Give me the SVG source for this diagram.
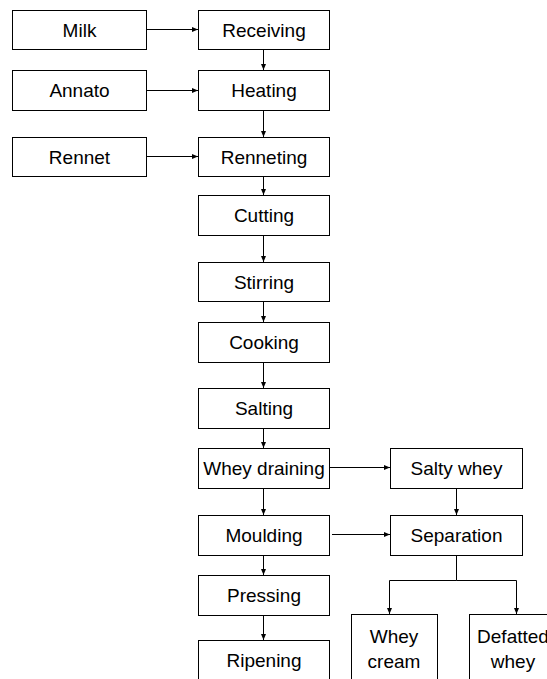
<svg xmlns="http://www.w3.org/2000/svg" width="547" height="679" viewBox="0 0 547 679">
<style>
.box{fill:#fff;stroke:#000;stroke-width:1}
.t{font-family:"Liberation Sans",Arial,sans-serif;font-size:19px;fill:#000;text-anchor:middle}
.c{fill:none;stroke:#000;stroke-width:1}
</style>
<defs>
<marker id="ah" markerWidth="6" markerHeight="6" refX="6" refY="3" orient="auto" markerUnits="userSpaceOnUse">
<path d="M0,0.5 L6,3 L0,5.5 Z" fill="#000"/>
</marker>
</defs>
<rect width="547" height="679" fill="#fff"/>
<g id="connectors">
<path class="c" d="M146.5,29.5 H198" marker-end="url(#ah)"/>
<path class="c" d="M146.5,90.5 H198" marker-end="url(#ah)"/>
<path class="c" d="M146.5,156.5 H198" marker-end="url(#ah)"/>
<path class="c" d="M263.5,49.5 V70" marker-end="url(#ah)"/>
<path class="c" d="M263.5,110.5 V137" marker-end="url(#ah)"/>
<path class="c" d="M263.5,176.5 V195" marker-end="url(#ah)"/>
<path class="c" d="M263.5,235.5 V262" marker-end="url(#ah)"/>
<path class="c" d="M263.5,301.5 V322" marker-end="url(#ah)"/>
<path class="c" d="M263.5,362.5 V388" marker-end="url(#ah)"/>
<path class="c" d="M263.5,428.5 V448" marker-end="url(#ah)"/>
<path class="c" d="M263.5,488.5 V515" marker-end="url(#ah)"/>
<path class="c" d="M263.5,555.5 V575" marker-end="url(#ah)"/>
<path class="c" d="M263.5,615.5 V640" marker-end="url(#ah)"/>
<path class="c" d="M329.5,467.5 H390" marker-end="url(#ah)"/>
<path class="c" d="M332,534.5 H390" marker-end="url(#ah)"/>
<path class="c" d="M456.5,488.5 V515" marker-end="url(#ah)"/>
<path class="c" d="M456.5,555.5 V580.5 H389.5 V614" marker-end="url(#ah)"/>
<path class="c" d="M456.5,580.5 H516.5 V614" marker-end="url(#ah)"/>
</g>
<g id="milk"><rect class="box" x="12.5" y="10.5" width="134" height="39"/><text class="t" x="79.5" y="36.5">Milk</text></g>
<g id="receiving"><rect class="box" x="198.5" y="10.5" width="131" height="39"/><text class="t" x="264" y="36.5">Receiving</text></g>
<g id="annato"><rect class="box" x="12.5" y="70.5" width="134" height="40"/><text class="t" x="79.5" y="97">Annato</text></g>
<g id="heating"><rect class="box" x="198.5" y="70.5" width="131" height="40"/><text class="t" x="264" y="97">Heating</text></g>
<g id="rennet"><rect class="box" x="12.5" y="137.5" width="134" height="39"/><text class="t" x="79.5" y="163.5">Rennet</text></g>
<g id="renneting"><rect class="box" x="198.5" y="137.5" width="131" height="39"/><text class="t" x="264" y="163.5">Renneting</text></g>
<g id="cutting"><rect class="box" x="198.5" y="195.5" width="131" height="40"/><text class="t" x="264" y="222">Cutting</text></g>
<g id="stirring"><rect class="box" x="198.5" y="262.5" width="131" height="39"/><text class="t" x="264" y="288.5">Stirring</text></g>
<g id="cooking"><rect class="box" x="198.5" y="322.5" width="131" height="40"/><text class="t" x="264" y="349">Cooking</text></g>
<g id="salting"><rect class="box" x="198.5" y="388.5" width="131" height="40"/><text class="t" x="264" y="415">Salting</text></g>
<g id="whey-draining"><rect class="box" x="198.5" y="448.5" width="131" height="40"/><text class="t" x="264" y="475">Whey draining</text></g>
<g id="moulding"><rect class="box" x="198.5" y="515.5" width="131" height="40"/><text class="t" x="264" y="542">Moulding</text></g>
<g id="pressing"><rect class="box" x="198.5" y="575.5" width="131" height="40"/><text class="t" x="264" y="602">Pressing</text></g>
<g id="ripening"><rect class="box" x="198.5" y="640.5" width="131" height="45"/><text class="t" x="264" y="667">Ripening</text></g>
<g id="salty-whey"><rect class="box" x="390.5" y="448.5" width="132" height="40"/><text class="t" x="456.5" y="475">Salty whey</text></g>
<g id="separation"><rect class="box" x="390.5" y="515.5" width="132" height="40"/><text class="t" x="456.5" y="542">Separation</text></g>
<g id="whey-cream"><rect class="box" x="351.5" y="614.5" width="86" height="70"/><text class="t" x="394" y="643">Whey</text><text class="t" x="394" y="668">cream</text></g>
<g id="defatted-whey"><rect class="box" x="469.5" y="614.5" width="87" height="70"/><text class="t" x="513" y="643">Defatted</text><text class="t" x="513" y="668">whey</text></g>
</svg>
